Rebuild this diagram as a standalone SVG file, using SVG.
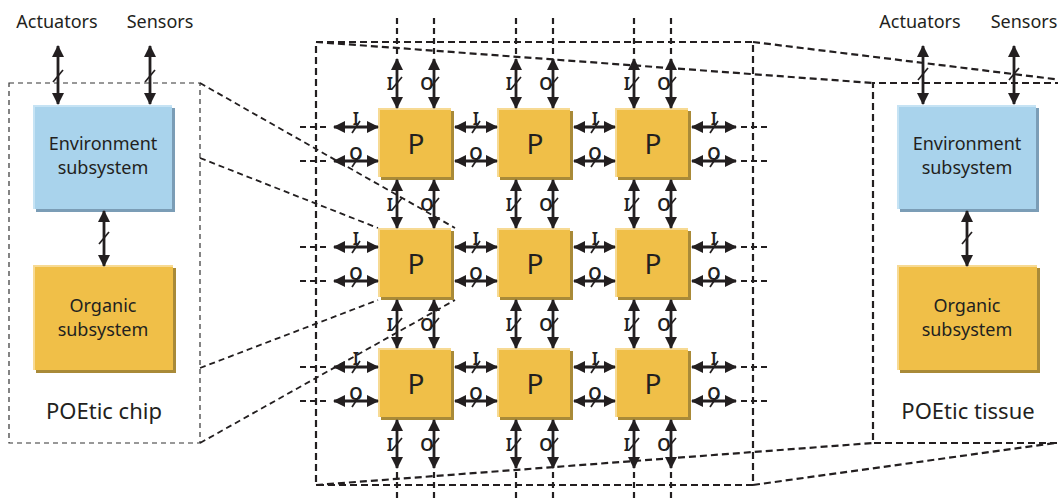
<svg xmlns="http://www.w3.org/2000/svg" width="1058" height="499" viewBox="0 0 1058 499">
  <defs>
    <marker id="head" viewBox="0 0 12 12" markerWidth="12" markerHeight="12" refX="11" refY="6" markerUnits="userSpaceOnUse" orient="auto-start-reverse">
      <path d="M0,0 L12,6 L0,12 z" fill="#231f20"/>
    </marker>
    <style>
      text { font-family: "Noto Sans", "DejaVu Sans", sans-serif; fill: #231f20; }
      .lbl { font-size: 18px; text-anchor: middle; }
      .cap { font-size: 22px; text-anchor: middle; }
      .pl { font-size: 28px; text-anchor: middle; }
      .bus { font-size: 17px; text-anchor: middle; font-weight: 600; }
      .arr { stroke: #231f20; stroke-width: 2.8; fill: none; marker-start: url(#head); marker-end: url(#head); }
      .sl { stroke: #231f20; stroke-width: 1.7; }
      .thin { stroke: #333; stroke-width: 1.2; stroke-dasharray: 5 4; fill: none; }
      .thick { stroke: #231f20; stroke-width: 2.2; stroke-dasharray: 7 4; fill: none; }
      .ext { stroke: #231f20; stroke-width: 2.2; stroke-dasharray: 6 4; fill: none; }
      .persp { stroke: #231f20; stroke-width: 1.8; stroke-dasharray: 6 4; fill: none; }
      .o-dk { fill: #a98a38; } .o-lt { fill: #f7da94; } .o-mn { fill: #f0bf48; }
      .b-dk { fill: #7b9db6; } .b-lt { fill: #c6e3f4; } .b-mn { fill: #a9d3ec; }
    </style>
    <!-- shaded block shapes -->
    <g id="pblock">
      <rect class="o-dk" x="3" y="3" width="73" height="69"/>
      <rect class="o-lt" x="0" y="0" width="73" height="69"/>
      <rect class="o-mn" x="2" y="2" width="71" height="67"/>
      <text class="pl" x="38" y="46">P</text>
    </g>
  </defs>

  <!-- dashed outlines and perspective lines -->
  <g id="outlines">
    <rect class="thin" x="9" y="83" width="191" height="360"/>
    <line class="persp" x1="200" y1="83" x2="455" y2="228"/>
    <line class="persp" x1="200" y1="158" x2="378" y2="228"/>
    <line class="persp" x1="200" y1="368" x2="378" y2="300"/>
    <line class="persp" x1="200" y1="443" x2="455" y2="300"/>
    <rect class="thick" x="316" y="42" width="437" height="443"/>
    <line class="thick" x1="316" y1="42" x2="873" y2="83"/>
    <line class="thick" x1="753" y1="42" x2="1062" y2="80"/>
    <line class="thick" x1="316" y1="485" x2="873" y2="443"/>
    <line class="thick" x1="753" y1="485" x2="1062" y2="442"/>
    <path class="thick" d="M1062,83 L873,83 L873,443 L1062,443"/>
  </g>

  <!-- grid continuation stubs -->
  <g id="stubs">
    <path class="ext" d="M397,18 V56 M434,18 V56 M516,18 V56 M553,18 V56 M634,18 V56 M671,18 V56"/>
    <path class="ext" d="M397,472 V499 M434,472 V499 M516,472 V499 M553,472 V499 M634,472 V499 M671,472 V499"/>
    <path class="ext" d="M300,127 H330 M300,161 H330 M300,247 H330 M300,281 H330 M300,367 H330 M300,401 H330"/>
    <path class="ext" d="M741,127 H770 M741,161 H770 M741,247 H770 M741,281 H770 M741,367 H770 M741,401 H770"/>
  </g>

  <!-- left chip -->
  <g id="chip-env">
    <rect class="b-dk" x="36" y="108" width="139" height="104"/>
    <rect class="b-lt" x="33" y="105" width="139" height="104"/>
    <rect class="b-mn" x="35" y="107" width="137" height="102"/>
    <text class="lbl" x="103" y="150">Environment</text>
    <text class="lbl" x="103" y="174">subsystem</text>
  </g>
  <g id="chip-org">
    <rect class="o-dk" x="36" y="268" width="140" height="105"/>
    <rect class="o-lt" x="33" y="265" width="140" height="105"/>
    <rect class="o-mn" x="35" y="267" width="138" height="103"/>
    <text class="lbl" x="103" y="312">Organic</text>
    <text class="lbl" x="103" y="336">subsystem</text>
  </g>
  <text class="lbl" x="57" y="28">Actuators</text>
  <text class="lbl" x="160" y="28">Sensors</text>
  <text class="cap" x="104" y="419">POEtic chip</text>

  <!-- right tissue -->
  <g id="tissue-env">
    <rect class="b-dk" x="900" y="108" width="139" height="104"/>
    <rect class="b-lt" x="897" y="105" width="139" height="104"/>
    <rect class="b-mn" x="899" y="107" width="137" height="102"/>
    <text class="lbl" x="967" y="150">Environment</text>
    <text class="lbl" x="967" y="174">subsystem</text>
  </g>
  <g id="tissue-org">
    <rect class="o-dk" x="900" y="268" width="140" height="105"/>
    <rect class="o-lt" x="897" y="265" width="140" height="105"/>
    <rect class="o-mn" x="899" y="267" width="138" height="103"/>
    <text class="lbl" x="967" y="312">Organic</text>
    <text class="lbl" x="967" y="336">subsystem</text>
  </g>
  <text class="lbl" x="920" y="28">Actuators</text>
  <text class="lbl" x="1024" y="28">Sensors</text>
  <text class="cap" x="968" y="419">POEtic tissue</text>

  <!-- processor array -->
  <g id="p11"><use href="#pblock" x="378" y="108"/></g>
  <g id="p12"><use href="#pblock" x="497" y="108"/></g>
  <g id="p13"><use href="#pblock" x="615" y="108"/></g>
  <g id="p21"><use href="#pblock" x="378" y="228"/></g>
  <g id="p22"><use href="#pblock" x="497" y="228"/></g>
  <g id="p23"><use href="#pblock" x="615" y="228"/></g>
  <g id="p31"><use href="#pblock" x="378" y="348"/></g>
  <g id="p32"><use href="#pblock" x="497" y="348"/></g>
  <g id="p33"><use href="#pblock" x="615" y="348"/></g>

  <g id="connectors">
    <!-- chip and tissue links -->
    <line class="arr" x1="58" y1="46" x2="58" y2="104"/>
    <line class="sl" x1="53" y1="82" x2="63" y2="70"/>
    <line class="arr" x1="150" y1="46" x2="150" y2="104"/>
    <line class="sl" x1="145" y1="82" x2="155" y2="70"/>
    <line class="arr" x1="104" y1="211" x2="104" y2="266"/>
    <line class="sl" x1="99" y1="244" x2="109" y2="232"/>
    <line class="arr" x1="923" y1="46" x2="923" y2="104"/>
    <line class="sl" x1="918" y1="80" x2="928" y2="68"/>
    <line class="arr" x1="1014" y1="46" x2="1014" y2="104"/>
    <line class="sl" x1="1009" y1="80" x2="1019" y2="68"/>
    <line class="arr" x1="967" y1="211" x2="967" y2="266"/>
    <line class="sl" x1="962" y1="244" x2="972" y2="232"/>

    <!-- vertical buses -->
    <g id="vbus">
      <line class="arr" x1="397" y1="59" x2="397" y2="108"/>
      <line class="arr" x1="434" y1="59" x2="434" y2="108"/>
      <line class="arr" x1="516" y1="59" x2="516" y2="108"/>
      <line class="arr" x1="553" y1="59" x2="553" y2="108"/>
      <line class="arr" x1="634" y1="59" x2="634" y2="108"/>
      <line class="arr" x1="671" y1="59" x2="671" y2="108"/>
      <line class="arr" x1="397" y1="180" x2="397" y2="228"/>
      <line class="arr" x1="434" y1="180" x2="434" y2="228"/>
      <line class="arr" x1="516" y1="180" x2="516" y2="228"/>
      <line class="arr" x1="553" y1="180" x2="553" y2="228"/>
      <line class="arr" x1="634" y1="180" x2="634" y2="228"/>
      <line class="arr" x1="671" y1="180" x2="671" y2="228"/>
      <line class="arr" x1="397" y1="300" x2="397" y2="348"/>
      <line class="arr" x1="434" y1="300" x2="434" y2="348"/>
      <line class="arr" x1="516" y1="300" x2="516" y2="348"/>
      <line class="arr" x1="553" y1="300" x2="553" y2="348"/>
      <line class="arr" x1="634" y1="300" x2="634" y2="348"/>
      <line class="arr" x1="671" y1="300" x2="671" y2="348"/>
      <line class="arr" x1="397" y1="420" x2="397" y2="468"/>
      <line class="arr" x1="434" y1="420" x2="434" y2="468"/>
      <line class="arr" x1="516" y1="420" x2="516" y2="468"/>
      <line class="arr" x1="553" y1="420" x2="553" y2="468"/>
      <line class="arr" x1="634" y1="420" x2="634" y2="468"/>
      <line class="arr" x1="671" y1="420" x2="671" y2="468"/>
    </g>

    <!-- horizontal buses -->
    <g id="hbus">
      <line class="arr" x1="334" y1="127" x2="378" y2="127"/>
      <line class="arr" x1="334" y1="161" x2="378" y2="161"/>
      <line class="arr" x1="455" y1="127" x2="497" y2="127"/>
      <line class="arr" x1="455" y1="161" x2="497" y2="161"/>
      <line class="arr" x1="574" y1="127" x2="615" y2="127"/>
      <line class="arr" x1="574" y1="161" x2="615" y2="161"/>
      <line class="arr" x1="692" y1="127" x2="736" y2="127"/>
      <line class="arr" x1="692" y1="161" x2="736" y2="161"/>
      <line class="arr" x1="334" y1="247" x2="378" y2="247"/>
      <line class="arr" x1="334" y1="281" x2="378" y2="281"/>
      <line class="arr" x1="455" y1="247" x2="497" y2="247"/>
      <line class="arr" x1="455" y1="281" x2="497" y2="281"/>
      <line class="arr" x1="574" y1="247" x2="615" y2="247"/>
      <line class="arr" x1="574" y1="281" x2="615" y2="281"/>
      <line class="arr" x1="692" y1="247" x2="736" y2="247"/>
      <line class="arr" x1="692" y1="281" x2="736" y2="281"/>
      <line class="arr" x1="334" y1="367" x2="378" y2="367"/>
      <line class="arr" x1="334" y1="401" x2="378" y2="401"/>
      <line class="arr" x1="455" y1="367" x2="497" y2="367"/>
      <line class="arr" x1="455" y1="401" x2="497" y2="401"/>
      <line class="arr" x1="574" y1="367" x2="615" y2="367"/>
      <line class="arr" x1="574" y1="401" x2="615" y2="401"/>
      <line class="arr" x1="692" y1="367" x2="736" y2="367"/>
      <line class="arr" x1="692" y1="401" x2="736" y2="401"/>
    </g>

    <!-- bus width marks on vertical buses (I / O) -->
    <g id="vmarks">
      <path class="sl" d="M392,89 L402,77 M429,89 L439,77 M511,89 L521,77 M548,89 L558,77 M629,89 L639,77 M666,89 L676,77"/>
      <path class="sl" d="M392,210 L402,198 M429,210 L439,198 M511,210 L521,198 M548,210 L558,198 M629,210 L639,198 M666,210 L676,198"/>
      <path class="sl" d="M392,330 L402,318 M429,330 L439,318 M511,330 L521,318 M548,330 L558,318 M629,330 L639,318 M666,330 L676,318"/>
      <path class="sl" d="M392,450 L402,438 M429,450 L439,438 M511,450 L521,438 M548,450 L558,438 M629,450 L639,438 M666,450 L676,438"/>
      <text class="bus" x="390" y="90">I</text><text class="bus" x="427" y="90">O</text>
      <text class="bus" x="509" y="90">I</text><text class="bus" x="546" y="90">O</text>
      <text class="bus" x="627" y="90">I</text><text class="bus" x="664" y="90">O</text>
      <text class="bus" x="390" y="211">I</text><text class="bus" x="427" y="211">O</text>
      <text class="bus" x="509" y="211">I</text><text class="bus" x="546" y="211">O</text>
      <text class="bus" x="627" y="211">I</text><text class="bus" x="664" y="211">O</text>
      <text class="bus" x="390" y="331">I</text><text class="bus" x="427" y="331">O</text>
      <text class="bus" x="509" y="331">I</text><text class="bus" x="546" y="331">O</text>
      <text class="bus" x="627" y="331">I</text><text class="bus" x="664" y="331">O</text>
      <text class="bus" x="390" y="451">I</text><text class="bus" x="427" y="451">O</text>
      <text class="bus" x="509" y="451">I</text><text class="bus" x="546" y="451">O</text>
      <text class="bus" x="627" y="451">I</text><text class="bus" x="664" y="451">O</text>
    </g>

    <!-- bus width marks on horizontal buses (I above, O below) -->
    <g id="hmarks">
      <path class="sl" d="M352,133 L360,121 M472,133 L480,121 M591,133 L599,121 M710,133 L718,121"/>
      <path class="sl" d="M352,167 L360,155 M472,167 L480,155 M591,167 L599,155 M710,167 L718,155"/>
      <path class="sl" d="M352,253 L360,241 M472,253 L480,241 M591,253 L599,241 M710,253 L718,241"/>
      <path class="sl" d="M352,287 L360,275 M472,287 L480,275 M591,287 L599,275 M710,287 L718,275"/>
      <path class="sl" d="M352,373 L360,361 M472,373 L480,361 M591,373 L599,361 M710,373 L718,361"/>
      <path class="sl" d="M352,407 L360,395 M472,407 L480,395 M591,407 L599,395 M710,407 L718,395"/>
      <text class="bus" x="356" y="125">I</text><text class="bus" x="476" y="125">I</text><text class="bus" x="595" y="125">I</text><text class="bus" x="714" y="125">I</text>
      <text class="bus" x="356" y="160">O</text><text class="bus" x="476" y="160">O</text><text class="bus" x="595" y="160">O</text><text class="bus" x="714" y="160">O</text>
      <text class="bus" x="356" y="245">I</text><text class="bus" x="476" y="245">I</text><text class="bus" x="595" y="245">I</text><text class="bus" x="714" y="245">I</text>
      <text class="bus" x="356" y="280">O</text><text class="bus" x="476" y="280">O</text><text class="bus" x="595" y="280">O</text><text class="bus" x="714" y="280">O</text>
      <text class="bus" x="356" y="365">I</text><text class="bus" x="476" y="365">I</text><text class="bus" x="595" y="365">I</text><text class="bus" x="714" y="365">I</text>
      <text class="bus" x="356" y="400">O</text><text class="bus" x="476" y="400">O</text><text class="bus" x="595" y="400">O</text><text class="bus" x="714" y="400">O</text>
    </g>
  </g>
</svg>
